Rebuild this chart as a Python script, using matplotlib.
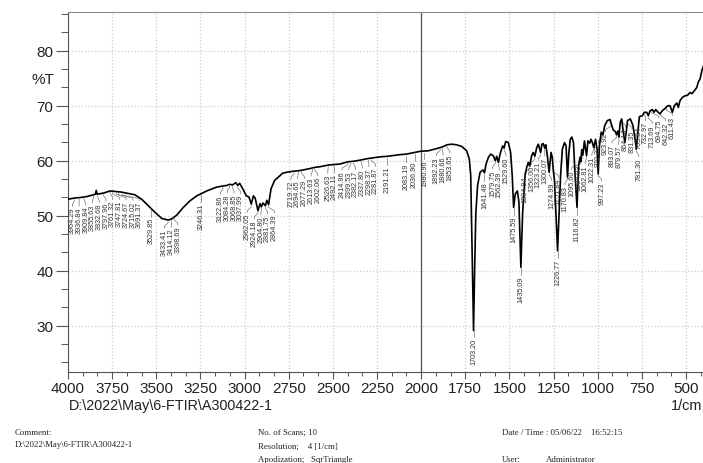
import matplotlib
matplotlib.use("Agg")
import matplotlib.pyplot as plt
from matplotlib.ticker import MultipleLocator
import numpy as np

# spectrum (wavenumber in 1/cm, transmittance in %T)
wavenumber = [4000, 3964, 3930, 3890, 3857, 3845, 3840, 3835, 3800, 3761, 3734, 3700, 3668, 3621,
              3583, 3545, 3507, 3469, 3433, 3413, 3384, 3347, 3309, 3271, 3214, 3158, 3122, 3101,
              3084, 3068, 3050, 3038, 3028, 3012, 2990, 2975, 2962, 2950, 2940, 2924, 2912, 2905,
              2895, 2882, 2874, 2864, 2850, 2830, 2809, 2785, 2761, 2720, 2686, 2640, 2600, 2573,
              2527, 2492, 2459, 2415, 2382, 2346, 2300, 2233, 2191, 2120, 2083, 2037, 2006, 1960,
              1912, 1880, 1853, 1827, 1800, 1770, 1742, 1727, 1719, 1712, 1703, 1697, 1690, 1680,
              1666, 1650, 1641, 1632, 1619, 1606, 1591, 1580, 1572, 1562, 1553, 1538, 1530, 1521,
              1506, 1493, 1484, 1476, 1467, 1455, 1446, 1435, 1425, 1411, 1402, 1393, 1385, 1374,
              1365, 1356, 1345, 1336, 1323, 1316, 1308, 1300, 1294, 1285, 1275, 1264, 1257, 1252,
              1245, 1236, 1227, 1219, 1210, 1200, 1188, 1179, 1171, 1163, 1155, 1146, 1137, 1128,
              1117, 1108, 1100, 1096, 1090, 1084, 1075, 1063, 1055, 1045, 1038, 1030, 1022, 1012,
              1003, 997, 990, 980, 970, 960, 945, 930, 924, 912, 900, 893, 886, 880, 872, 864, 855,
              846, 838, 831, 815, 800, 790, 781, 774, 764, 747, 736, 722, 713, 703, 690, 681, 671,
              660, 647, 634, 618, 603, 590, 577, 566, 552, 543, 534, 521, 506, 491, 477, 466, 453,
              439, 430, 420, 409, 400]
transmittance = [53.0, 53.2, 53.3, 53.5, 53.8, 53.9, 54.6, 53.9, 54.1, 54.5, 54.4, 54.3, 54.1, 53.8,
                 53.0, 51.8, 50.6, 49.5, 49.2, 49.4, 50.1, 51.5, 52.7, 53.6, 54.5, 55.2, 55.4, 55.5,
                 55.7, 55.6, 56.0, 55.5, 55.9, 55.0, 53.6, 53.4, 52.1, 53.6, 53.2, 50.9, 52.2, 51.6,
                 52.3, 51.8, 52.8, 52.0, 54.9, 56.4, 57.0, 57.7, 57.9, 58.1, 58.2, 58.5, 58.8, 58.9,
                 59.2, 59.3, 59.4, 59.8, 59.9, 60.1, 60.4, 60.7, 60.8, 61.1, 61.2, 61.5, 61.7, 61.8,
                 62.2, 62.5, 62.9, 63.0, 62.9, 62.6, 61.8, 60.3, 57.3, 45.0, 29.1, 40.0, 50.5, 55.5,
                 57.9, 58.3, 57.8, 59.4, 60.6, 61.2, 60.9, 60.0, 60.8, 59.7, 61.2, 62.7, 62.3, 63.5,
                 63.3, 61.5, 57.3, 51.5, 53.9, 54.5, 52.5, 40.6, 50.5, 57.3, 58.8, 59.7, 59.0, 60.9,
                 61.5, 60.8, 62.4, 63.0, 61.5, 63.0, 63.1, 62.3, 62.9, 60.9, 57.9, 61.5, 60.6, 58.5,
                 56.5, 50.0, 43.6, 50.0, 57.3, 62.1, 63.3, 62.7, 57.0, 61.5, 63.9, 64.3, 63.3, 57.3,
                 51.5, 59.1, 60.6, 59.8, 62.0, 61.0, 63.6, 60.9, 63.6, 63.2, 63.9, 63.3, 62.4, 63.9,
                 62.0, 57.6, 62.7, 65.2, 64.7, 66.4, 67.3, 67.5, 66.8, 65.6, 65.3, 64.7, 65.4, 64.3,
                 67.0, 67.6, 65.2, 63.3, 65.2, 67.3, 67.6, 66.4, 64.3, 62.1, 64.5, 68.0, 68.2, 68.8,
                 68.8, 68.2, 69.1, 69.3, 68.8, 69.3, 68.9, 68.5, 69.1, 69.5, 70.0, 70.0, 68.8, 70.0,
                 70.5, 69.7, 70.9, 71.5, 71.8, 71.9, 72.4, 72.2, 72.7, 73.3, 74.3, 74.9, 76.5, 77.3]

peak_labels = ["3964.29", "3936.84", "3909.84", "3855.63", "3832.68", "3797.96", "3761.32",
               "3747.81", "3724.67", "3715.02", "3691.37", "3529.85", "3433.41", "3414.12",
               "3398.69", "3246.31", "3122.86", "3084.28", "3068.85", "3037.99", "2962.05",
               "2924.18", "2904.80", "2881.75", "2864.39", "2719.72", "2694.65", "2677.29",
               "2613.63", "2602.06", "2526.63", "2492.11", "2414.96", "2399.53", "2382.17",
               "2337.80", "2298.37", "2281.87", "2191.21", "2083.19", "2036.90", "1980.96",
               "1892.23", "1880.66", "1853.65", "1703.20", "1641.48", "1579.75", "1562.39",
               "1529.60", "1475.59", "1435.09", "1384.94", "1356.00", "1323.21", "1300.07",
               "1274.99", "1251.84", "1226.77", "1170.83", "1116.82", "1095.60", "1084.03",
               "1062.81", "1022.31", "997.23", "970.23", "923.92", "893.07", "879.57", "864.14",
               "831.35", "781.30", "763.84", "732.97", "713.69", "694.75", "642.32", "611.43"]

x_ticks = [4000, 3750, 3500, 3250, 3000, 2750, 2500, 2250, 2000, 1750, 1500, 1250, 1000, 750, 500]
y_ticks = [30, 40, 50, 60, 70, 80]

plt.rcParams['font.family'] = ['Liberation Sans', 'DejaVu Sans']

fig = plt.figure(figsize=(7.03, 4.64), dpi=100)
ax = fig.add_axes([68 / 703, 1 - 373.3 / 464, 635.6 / 703, 360 / 464])

ax.plot(wavenumber, transmittance, color='black', lw=1.2, zorder=3)
ax.axvline(2000, color='#555555', lw=0.9, zorder=2)

ax.set_xlim(4000, 400)
ax.set_ylim(21.5, 87)
ax.set_xticks(x_ticks)
ax.set_yticks(y_ticks)
ax.xaxis.set_minor_locator(MultipleLocator(250 / 3))
ax.yaxis.set_minor_locator(MultipleLocator(10 / 3))
ax.grid(True, which='major', color='#cfcfcf', linestyle=':', linewidth=0.9)
ax.tick_params(axis='x', which='major', length=5, width=0.8, color='#555555',
               labelsize=11, pad=1.5, labelcolor='#222222')
ax.tick_params(axis='x', which='minor', length=3, width=0.7, color='#555555')
ax.tick_params(axis='y', which='major', length=9, width=0.8, color='#555555',
               labelsize=11, pad=1.5, labelcolor='#222222')
ax.tick_params(axis='y', which='minor', length=5, width=0.7, color='#555555')
ax.spines['top'].set_color('#8a8a8a')
ax.spines['left'].set_color('#555555')
ax.spines['bottom'].set_color('#555555')
ax.spines['right'].set_visible(False)

# peak labels: rotated numbers under each peak, spread so they do not overlap
peak_wn = np.array([float(s) for s in peak_labels])
peak_t = np.interp(peak_wn, wavenumber[::-1], transmittance[::-1])
tops = peak_t - 1.6
label_len = 5.1
pos = -peak_wn.copy()
gap = 38.0
left_edge = -3975.0
for _ in range(400):
    moved = False
    for i in range(len(pos)):
        for j in range(i + 1, len(pos)):
            if abs(pos[j] - pos[i]) >= gap - 0.01:
                continue
            if tops[i] - label_len > tops[j] or tops[j] - label_len > tops[i]:
                continue
            need = gap - (pos[j] - pos[i])
            shift_left = min(need / 2, pos[i] - left_edge)
            pos[i] -= shift_left
            pos[j] += need - shift_left
            moved = True
    if not moved:
        break
label_x = -pos

for wn, t, top, lx, txt in zip(peak_wn, peak_t, tops, label_x, peak_labels):
    ax.plot([wn, wn, lx, lx], [t - 0.3, top + 1.1, top + 0.45, top + 0.1],
            color='#666666', lw=0.45, zorder=2, clip_on=False)
    ax.text(lx, top, txt, rotation=90, ha='center', va='top', fontsize=5.2,
            color='#333333', zorder=4)

fig.text(43 / 703, 1 - 80 / 464, '%T', fontsize=11, color='#222222', ha='center', va='center')
fig.text(69 / 703, 1 - 410 / 464, 'D:\\2022\\May\\6-FTIR\\A300422-1', fontsize=10.4,
         color='#222222', ha='left', va='baseline')
fig.text(0.999, 1 - 410 / 464, '1/cm', fontsize=10.4, color='#222222', ha='right', va='baseline')

serif = ['Liberation Serif', 'DejaVu Serif']
footer = [
    (15, 433, 'Comment:'),
    (15, 445, 'D:\\2022\\May\\6-FTIR\\A300422-1'),
    (258, 433, 'No. of Scans; 10'),
    (258, 447, 'Resolution;    4 [1/cm]'),
    (258, 460, 'Apodization;   SqrTriangle'),
    (502, 433, 'Date / Time : 05/06/22    16:52:15'),
    (502, 460, 'User:'),
    (546, 460, 'Administrator'),
]
for fx, fy, txt in footer:
    fig.text(fx / 703, 1 - fy / 464, txt, fontsize=6.3, family=serif, color='#222222',
             ha='left', va='center')

fig.savefig('out.png', dpi=100)
